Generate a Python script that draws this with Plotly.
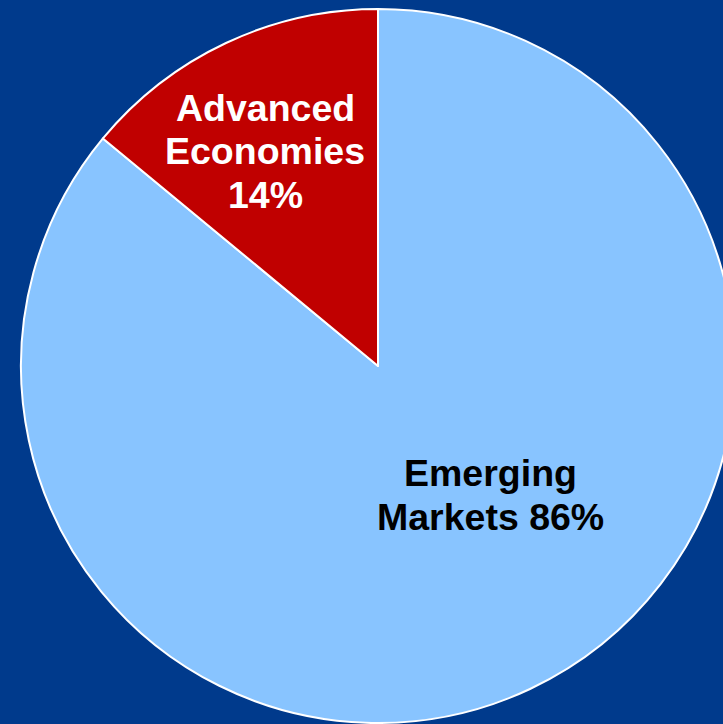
import plotly.graph_objects as go

labels = ["Emerging Markets", "Advanced Economies"]
values = [86, 14]
label_lines = [["Emerging", "Markets 86%"], ["Advanced", "Economies", "14%"]]
colors = ["#88C4FF", "#C00000"]
text_colors = ["black", "white"]

W, H = 760, 724
cx, cy, r = 378, 366, 357

fig = go.Figure(go.Pie(
    labels=labels,
    values=values,
    sort=False,
    direction="clockwise",
    rotation=0,
    textinfo="none",
    hoverinfo="label+percent",
    marker=dict(colors=colors, line=dict(color="white", width=2)),
    domain=dict(x=[(cx - r) / W, (cx + r) / W], y=[1 - (cy + r) / H, 1 - (cy - r) / H]),
    showlegend=False,
))

label_pos = [(491, 473), (265, 108)]
line_gap = 43.5
for lines, col, (px, py) in zip(label_lines, text_colors, label_pos):
    for i, txt in enumerate(lines):
        fig.add_annotation(
            x=px / W, y=1 - (py + i * line_gap) / H, xref="paper", yref="paper",
            text=txt, showarrow=False, align="center",
            font=dict(family="Liberation Sans, Arial, sans-serif", size=37.5, color=col, weight="bold"),
            xanchor="center", yanchor="middle",
        )

fig.update_layout(
    width=W, height=H,
    margin=dict(l=0, r=0, t=0, b=0),
    paper_bgcolor="#003A8C",
    plot_bgcolor="#003A8C",
)

fig.write_html("out.html", config={"displayModeBar": False},
               post_script="document.body.style.margin='0';document.body.style.overflow='hidden';")
